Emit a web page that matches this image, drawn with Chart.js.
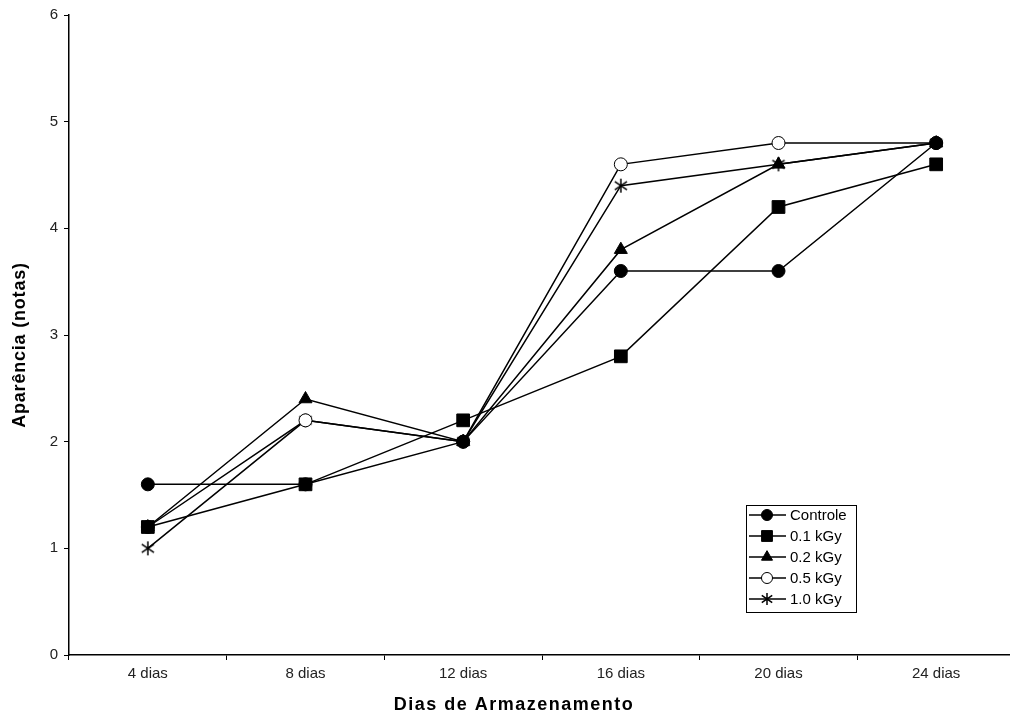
<!DOCTYPE html>
<html>
<head>
<meta charset="utf-8">
<script src="https://cdn.jsdelivr.net/npm/chart.js@4"></script>
<style>
  html, body { margin: 0; padding: 0; background: #fff; overflow: hidden; }
  #wrap { width: 1010px; height: 718px; overflow: hidden; }
  #wrap canvas { display: block; }
</style>
</head>
<body>
<div id="wrap"><canvas id="lineChart" width="1025" height="718"></canvas></div>
<script>
// Storage days on the x axis
var diasLabels = ['4 dias', '8 dias', '12 dias', '16 dias', '20 dias', '24 dias'];

// Appearance scores, one array per dose
var controle = [1.6, 1.6, 2.0, 3.6, 3.6, 4.8];
var dose01 = [1.2, 1.6, 2.2, 2.8, 4.2, 4.6];
var dose02 = [1.2, 2.4, 2.0, 3.8, 4.6, 4.8];
var dose05 = [1.2, 2.2, 2.0, 4.6, 4.8, 4.8];
var dose10 = [1.0, 2.2, 2.0, 4.4, 4.6, 4.8];

var serieNames = ['Controle', '0.1 kGy', '0.2 kGy', '0.5 kGy', '1.0 kGy'];

var fontFamily = '"Liberation Sans", Arial, sans-serif';

// Asterisk marker: an X with a vertical bar through it
function makeStar(size) {
    var c = document.createElement('canvas');
    c.width = size; c.height = size;
    var g = c.getContext('2d');
    var m = size / 2, r = size / 2 - 1;
    g.strokeStyle = '#000';
    g.lineWidth = 1.5;
    g.beginPath();
    g.moveTo(m, m - r); g.lineTo(m, m + r);
    g.moveTo(m - r * 0.87, m - r * 0.6); g.lineTo(m + r * 0.87, m + r * 0.6);
    g.moveTo(m - r * 0.87, m + r * 0.6); g.lineTo(m + r * 0.87, m - r * 0.6);
    g.stroke();
    return c;
}
var starMarker = makeStar(16);
var starSmall = makeStar(14);

function serie(label, data, style, radius, fill) {
    return {
        label: label,
        data: data,
        borderColor: '#000',
        borderWidth: 1.5,
        pointStyle: style,
        pointRadius: radius,
        pointHoverRadius: radius,
        pointBackgroundColor: fill,
        pointBorderColor: '#000',
        pointBorderWidth: 1,
        fill: false,
        tension: 0
    };
}

var datasets = [
    serie(serieNames[0], controle, 'circle', 6.5, '#000'),
    serie(serieNames[1], dose01, 'rect', 9, '#000'),
    serie(serieNames[2], dose02, 'triangle', 7.5, '#000'),
    serie(serieNames[3], dose05, 'circle', 6.5, '#fff'),
    serie(serieNames[4], dose10, starMarker, 8, '#000')
];

// Legend drawn inside the plot area, as in the original
var boxLegend = {
    id: 'boxLegend',
    afterDraw: function (chart) {
        var ctx = chart.ctx;
        var x0 = 746, y0 = 505, w = 110, h = 107;
        ctx.save();
        ctx.fillStyle = '#fff';
        ctx.fillRect(x0, y0, w, h);
        ctx.strokeStyle = '#000';
        ctx.lineWidth = 1;
        ctx.strokeRect(x0 + 0.5, y0 + 0.5, w, h);
        ctx.font = '15px ' + fontFamily;
        ctx.textBaseline = 'middle';
        chart.data.datasets.forEach(function (ds, i) {
            var y = y0 + 10 + i * 21;
            ctx.strokeStyle = '#000';
            ctx.lineWidth = 1.5;
            ctx.beginPath();
            ctx.moveTo(x0 + 3, y);
            ctx.lineTo(x0 + 40, y);
            ctx.stroke();
            ctx.fillStyle = ds.pointBackgroundColor;
            ctx.lineWidth = 1;
            var style = ds.pointStyle === starMarker ? starSmall : ds.pointStyle;
            Chart.helpers.drawPoint(ctx, {
                pointStyle: style,
                radius: ds.pointRadius * 0.85,
                borderWidth: 1,
                rotation: 0
            }, x0 + 21, y);
            ctx.fillStyle = '#000';
            ctx.textAlign = 'left';
            ctx.fillText(ds.label, x0 + 44, y + 1);
        });
        ctx.restore();
    }
};

// Axis titles, drawn with a little letter spacing
var axisTitles = {
    id: 'axisTitles',
    afterDraw: function (chart) {
        var ctx = chart.ctx;
        ctx.save();
        ctx.fillStyle = '#000';
        ctx.textAlign = 'center';
        ctx.textBaseline = 'middle';
        ctx.font = 'bold 18px ' + fontFamily;
        ctx.letterSpacing = '1.5px';
        ctx.fillText('Dias de Armazenamento', 514, 705);
        ctx.letterSpacing = '0.8px';
        ctx.translate(20, 345);
        ctx.rotate(-Math.PI / 2);
        ctx.fillText('Aparência (notas)', 0, 0);
        ctx.restore();
    }
};

var ctx = document.getElementById('lineChart');
var myLineChart = new Chart(ctx, {
    type: 'line',
    data: { labels: diasLabels, datasets: datasets },
    options: {
        responsive: false,
        animation: false,
        layout: { padding: { top: 15, right: 0, bottom: 0, left: 0 } },
        plugins: { legend: { display: false }, tooltip: { enabled: false } },
        scales: {
            x: {
                type: 'category',
                offset: true,
                border: { color: '#000', width: 1.5 },
                grid: { display: true, drawOnChartArea: false, drawTicks: true, tickLength: 5, color: '#000', offset: true },
                ticks: { color: '#222', font: { size: 15, family: fontFamily }, padding: 5, maxRotation: 0 },
                afterFit: function (s) { s.height = 63; }
            },
            y: {
                min: 0,
                max: 6,
                border: { color: '#000', width: 1.5 },
                grid: { display: true, drawOnChartArea: false, drawTicks: true, tickLength: 5, color: '#000' },
                ticks: { stepSize: 1, color: '#222', font: { size: 15, family: fontFamily }, padding: 6 },
                afterFit: function (s) { s.width = 69; }
            }
        }
    },
    plugins: [boxLegend, axisTitles]
});
</script>
</body>
</html>
